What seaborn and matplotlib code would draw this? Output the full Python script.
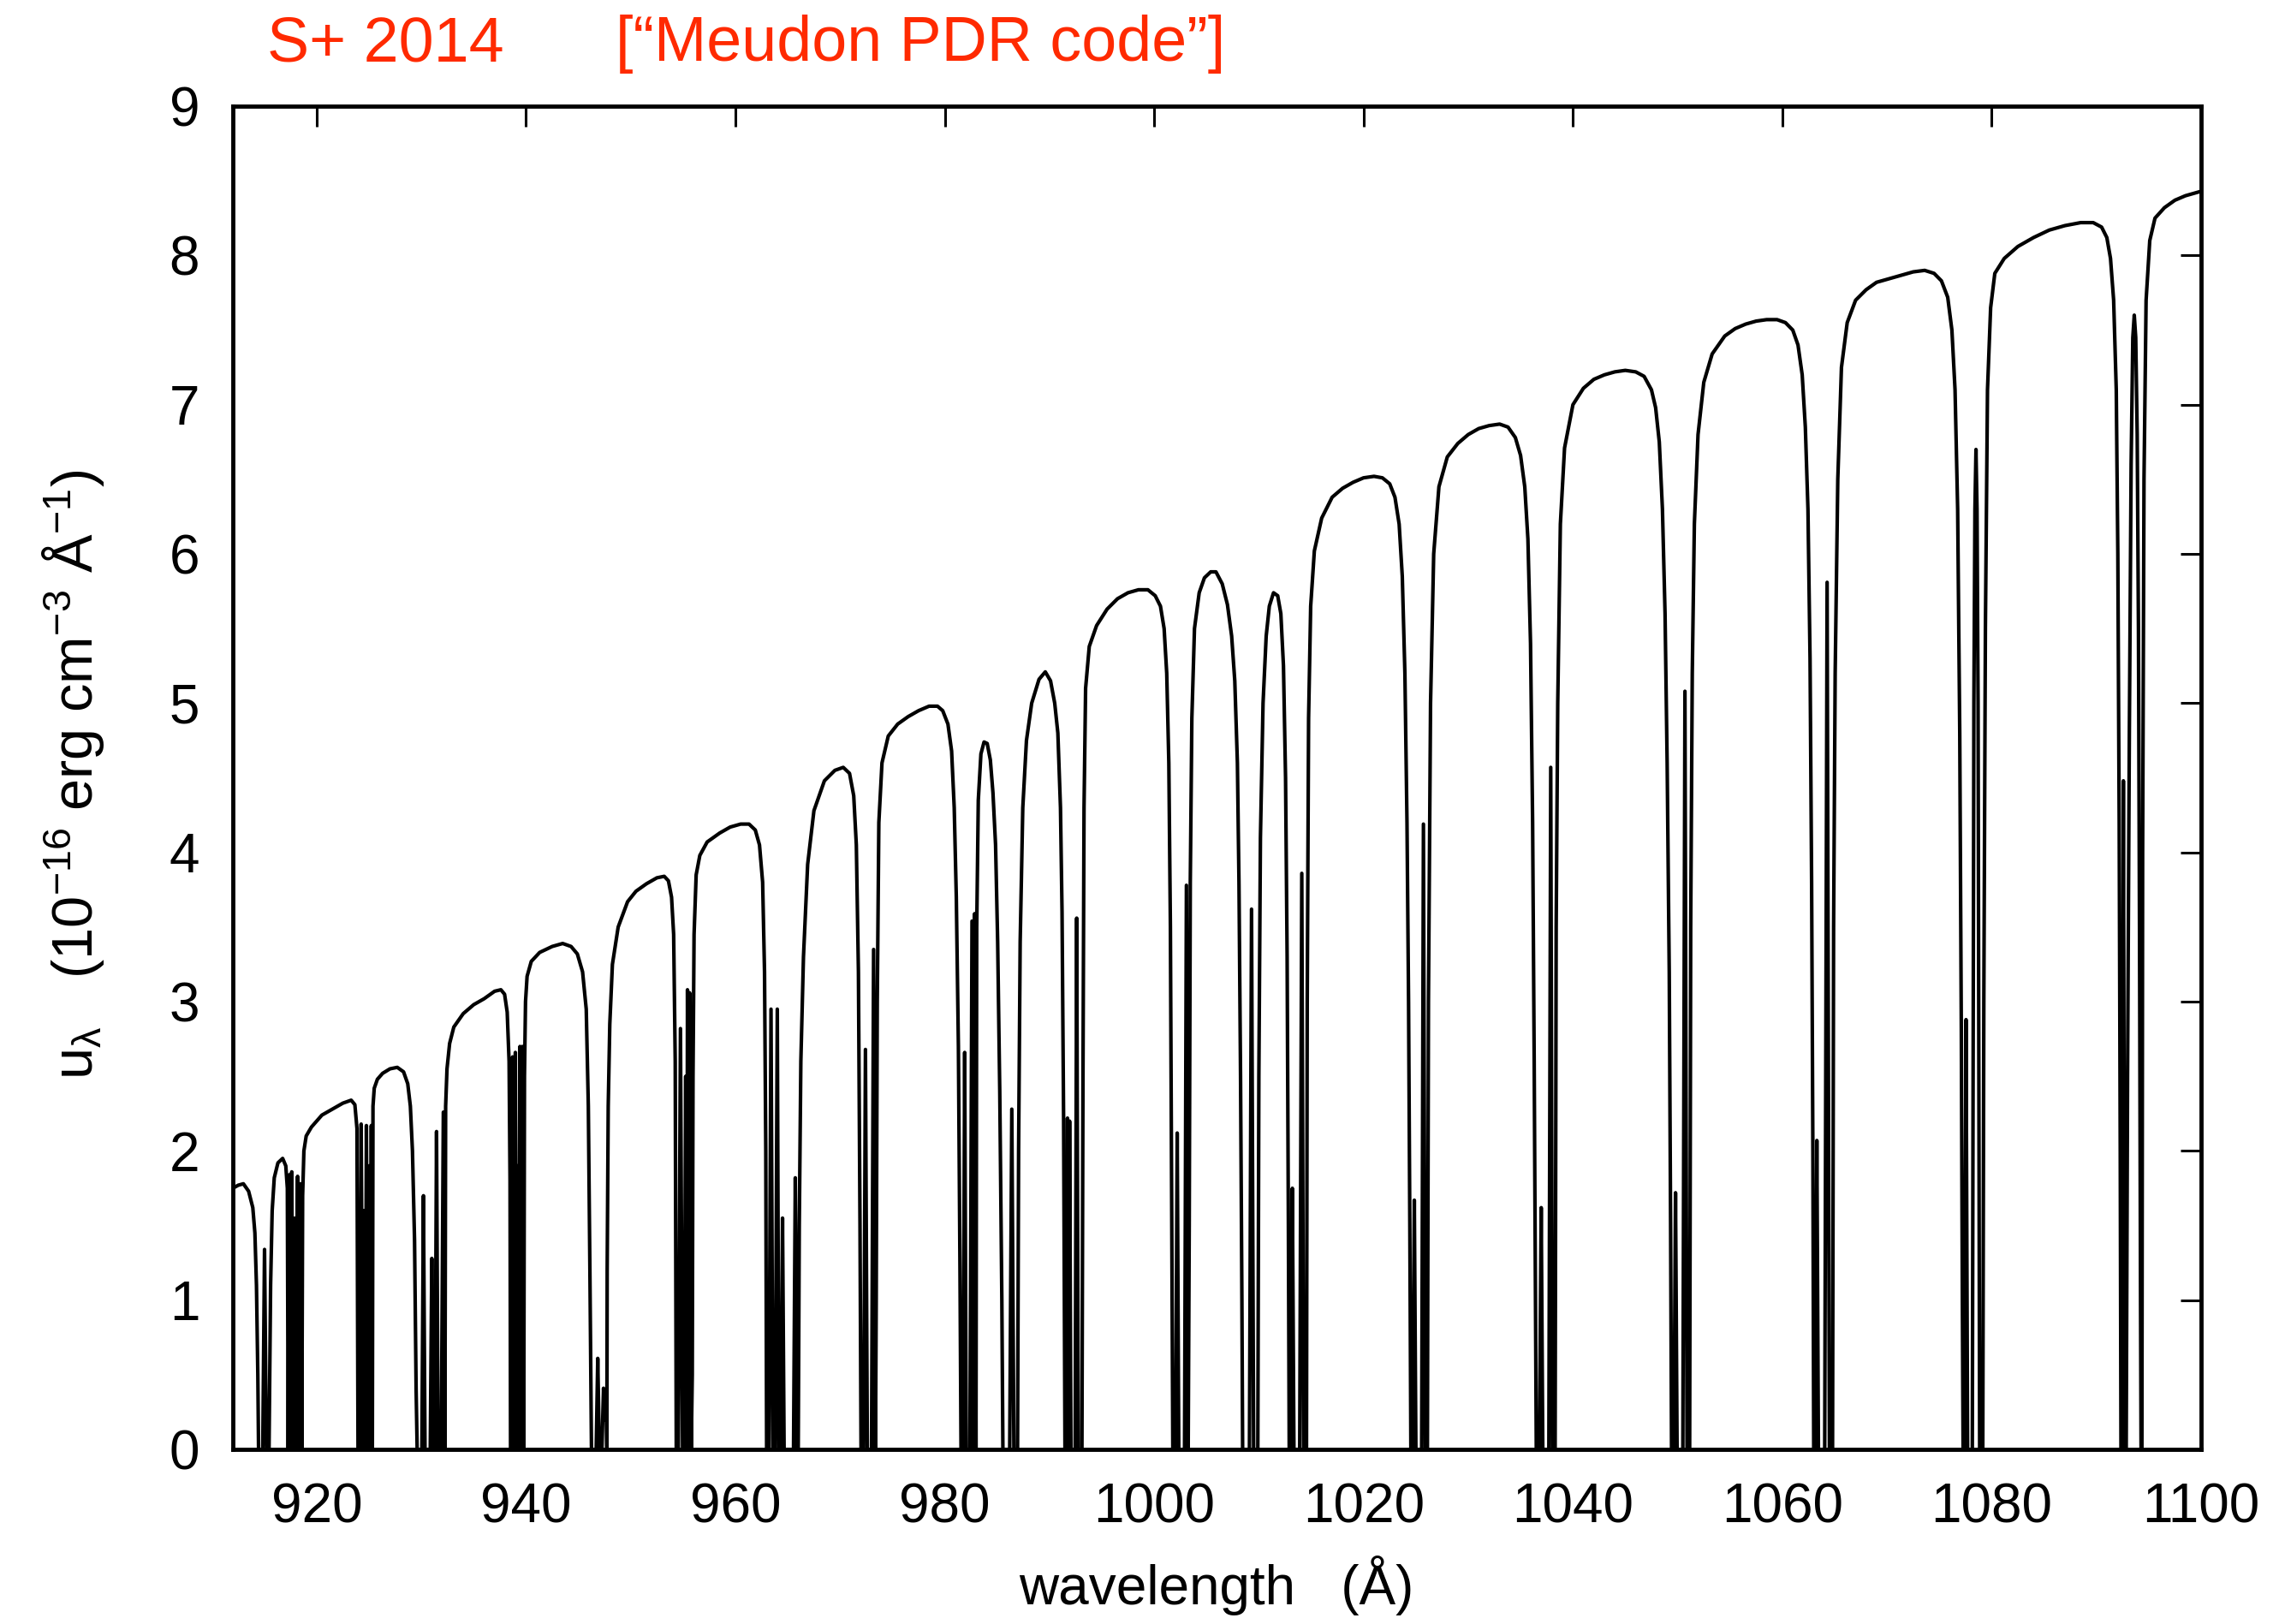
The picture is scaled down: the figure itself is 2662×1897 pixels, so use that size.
import matplotlib.pyplot as plt
import seaborn as sns
import pandas as pd

# (wavelength in Angstrom, u_lambda in 1e-16 erg cm-3 A-1)
band_912_926 = [
    (912.0, 1.75), (912.5, 1.77), (913.0, 1.78), (913.5, 1.73), (913.9, 1.62),
    (914.1, 1.45), (914.25, 1.10), (914.38, 0.50), (914.45, 0.0),
    (914.85, 0.0), (915.02, 1.34), (915.2, 0.0),
    (915.45, 0.0), (915.6, 1.10), (915.75, 1.60), (915.95, 1.82), (916.3, 1.92),
    (916.75, 1.95), (917.05, 1.90), (917.2, 1.75), (917.28, 0.0),
    (917.38, 1.84), (917.5, 0.0), (917.62, 1.86), (917.75, 0.0), (917.9, 1.55),
    (918.0, 0.0), (918.18, 1.83), (918.3, 0.0), (918.45, 1.78), (918.58, 0.0),
    (918.66, 1.70), (918.78, 2.00), (919.0, 2.10), (919.5, 2.16), (920.5, 2.24),
    (921.5, 2.28), (922.5, 2.32), (923.3, 2.34), (923.65, 2.31), (923.85, 2.15),
    (923.95, 0.0), (924.1, 0.0), (924.25, 2.18), (924.42, 0.0), (924.55, 1.60),
    (924.65, 0.0), (924.75, 2.17), (924.9, 0.0), (925.0, 1.90), (925.1, 0.0),
    (925.22, 2.17), (925.32, 0.0),
]

band_925_940 = [
    (925.38, 2.30), (925.5, 2.42), (925.8, 2.48), (926.3, 2.52), (927.0, 2.55),
    (927.7, 2.56), (928.3, 2.53), (928.7, 2.45), (928.95, 2.30), (929.15, 2.00),
    (929.35, 1.40), (929.5, 0.40), (929.6, 0.0),
    (930.05, 0.0), (930.2, 1.70), (930.35, 0.0), (930.85, 0.0), (931.0, 1.28),
    (931.12, 0.0), (931.3, 0.0), (931.45, 2.13), (931.6, 0.0), (931.9, 0.0),
    (932.1, 2.26), (932.25, 0.0),
    (932.32, 2.30), (932.45, 2.55), (932.7, 2.72), (933.1, 2.83), (934.0, 2.92),
    (935.0, 2.98), (936.0, 3.02), (937.0, 3.07), (937.6, 3.08), (937.95, 3.05),
    (938.2, 2.93), (938.38, 2.60), (938.47, 1.80), (938.52, 0.0),
    (938.6, 0.0), (938.72, 2.63), (938.85, 0.0), (938.98, 2.66), (939.1, 0.0),
    (939.2, 1.90), (939.28, 0.0), (939.42, 2.70), (939.55, 0.0), (939.65, 2.70),
    (939.78, 0.0),
]

band_940_956 = [
    (939.85, 2.50), (939.95, 3.00), (940.1, 3.17), (940.5, 3.27), (941.3, 3.33),
    (942.5, 3.37), (943.5, 3.39), (944.3, 3.37), (944.9, 3.32), (945.4, 3.20),
    (945.75, 2.95), (945.95, 2.30), (946.1, 1.20), (946.25, 0.0),
    (946.7, 0.0), (946.85, 0.61), (947.0, 0.0), (947.25, 0.0), (947.4, 0.41),
    (947.55, 0.20), (947.65, 0.39), (947.72, 0.0),
    (947.75, 1.20), (947.85, 2.30), (948.0, 2.85), (948.25, 3.25), (948.8, 3.50),
    (949.7, 3.67), (950.5, 3.74), (951.5, 3.79), (952.5, 3.83), (953.2, 3.84),
    (953.6, 3.81), (953.9, 3.70), (954.1, 3.45), (954.25, 2.60), (954.35, 0.0),
    (954.55, 0.0), (954.75, 2.82), (954.95, 0.0), (955.1, 0.0), (955.25, 2.50),
    (955.35, 0.0), (955.42, 3.08), (955.55, 0.0), (955.62, 3.06), (955.78, 0.0),
]

band_956_974 = [
    (955.88, 0.50), (955.95, 2.50), (956.05, 3.45), (956.25, 3.85), (956.6, 3.98),
    (957.3, 4.07), (958.5, 4.13), (959.5, 4.17), (960.5, 4.19), (961.3, 4.19),
    (961.9, 4.15), (962.3, 4.05), (962.6, 3.80), (962.78, 3.20), (962.9, 2.00),
    (962.98, 0.0),
    (963.2, 0.0), (963.4, 2.95), (963.58, 0.0), (963.8, 0.0), (964.0, 2.95),
    (964.15, 0.0), (964.35, 0.0), (964.5, 1.55), (964.65, 0.0), (965.55, 0.0),
    (965.72, 1.82), (965.88, 0.0),
    (966.0, 0.0), (966.1, 1.50), (966.25, 2.60), (966.5, 3.30), (966.9, 3.92),
    (967.5, 4.28), (968.5, 4.48), (969.5, 4.55), (970.3, 4.57), (970.9, 4.53),
    (971.3, 4.38), (971.55, 4.05), (971.75, 3.20), (971.9, 1.50), (972.0, 0.0),
    (972.25, 0.0), (972.42, 2.68), (972.6, 0.0), (973.0, 0.0), (973.2, 3.35),
    (973.38, 0.0),
]

band_973_993 = [
    (973.45, 1.00), (973.55, 3.00), (973.7, 4.20), (974.0, 4.60), (974.6, 4.78),
    (975.5, 4.86), (976.5, 4.91), (977.5, 4.95), (978.5, 4.98), (979.3, 4.98),
    (979.8, 4.95), (980.3, 4.86), (980.65, 4.68), (980.9, 4.30), (981.1, 3.70),
    (981.3, 2.70), (981.45, 1.20), (981.55, 0.0),
    (981.75, 0.0), (981.9, 2.66), (982.05, 0.0), (982.4, 0.0), (982.6, 3.54),
    (982.75, 0.0), (982.85, 3.59), (982.98, 0.0),
    (983.05, 3.50), (983.2, 4.35), (983.45, 4.66), (983.75, 4.74), (984.05, 4.73),
    (984.35, 4.62), (984.6, 4.40), (984.85, 4.05), (985.05, 3.40), (985.25, 2.40),
    (985.45, 1.00), (985.55, 0.0),
    (986.2, 0.0), (986.4, 2.28), (986.6, 0.0),
    (986.95, 0.0), (987.05, 2.00), (987.2, 3.40), (987.45, 4.30), (987.8, 4.75),
    (988.3, 5.00), (989.0, 5.16), (989.6, 5.21), (990.1, 5.15), (990.5, 5.00),
    (990.8, 4.80), (991.05, 4.30), (991.2, 3.60), (991.35, 2.20), (991.48, 0.0),
    (991.6, 0.0), (991.72, 2.22), (991.85, 0.0), (991.92, 2.20), (992.05, 0.0),
    (992.45, 0.0), (992.6, 3.56), (992.75, 0.0),
]

band_993_1015 = [
    (993.1, 0.0), (993.2, 2.50), (993.3, 4.30), (993.45, 5.10), (993.8, 5.38),
    (994.5, 5.52), (995.5, 5.63), (996.5, 5.70), (997.5, 5.74), (998.5, 5.76),
    (999.4, 5.76), (1000.1, 5.72), (1000.6, 5.65), (1000.95, 5.50), (1001.2, 5.20),
    (1001.4, 4.60), (1001.55, 3.50), (1001.68, 1.50), (1001.78, 0.0),
    (1002.05, 0.0), (1002.2, 2.12), (1002.35, 0.0), (1002.9, 0.0), (1003.08, 3.78),
    (1003.25, 0.0),
    (1003.35, 1.50), (1003.45, 3.80), (1003.6, 4.90), (1003.85, 5.50), (1004.3, 5.74),
    (1004.8, 5.84), (1005.4, 5.88), (1005.9, 5.88), (1006.5, 5.80), (1007.0, 5.66),
    (1007.4, 5.45), (1007.7, 5.15), (1007.95, 4.60), (1008.1, 3.80), (1008.25, 2.50),
    (1008.38, 1.00), (1008.45, 0.0),
    (1009.1, 0.0), (1009.3, 3.62), (1009.5, 0.0),
    (1009.9, 0.0), (1010.0, 2.50), (1010.15, 4.10), (1010.4, 5.00), (1010.7, 5.45),
    (1011.0, 5.65), (1011.4, 5.74), (1011.8, 5.72), (1012.1, 5.60), (1012.35, 5.25),
    (1012.55, 4.50), (1012.7, 3.30), (1012.82, 1.50), (1012.9, 0.0),
    (1013.05, 0.0), (1013.2, 1.75), (1013.35, 0.0), (1013.9, 0.0), (1014.1, 3.86),
    (1014.28, 0.0),
]

band_1014_1038 = [
    (1014.55, 0.0), (1014.62, 3.00), (1014.75, 4.90), (1014.95, 5.65), (1015.3, 6.02),
    (1016.0, 6.24), (1017.0, 6.38), (1018.0, 6.44), (1019.0, 6.48), (1020.0, 6.51),
    (1021.0, 6.52), (1021.8, 6.51), (1022.5, 6.47), (1023.0, 6.38), (1023.4, 6.20),
    (1023.7, 5.85), (1023.95, 5.20), (1024.15, 4.20), (1024.3, 3.00), (1024.42, 1.50),
    (1024.52, 0.0),
    (1024.7, 0.0), (1024.85, 1.67), (1025.0, 0.0), (1025.55, 0.0), (1025.72, 4.19),
    (1025.9, 0.0),
    (1026.1, 0.0), (1026.2, 3.00), (1026.4, 5.00), (1026.7, 6.00), (1027.2, 6.45),
    (1028.0, 6.65), (1029.0, 6.74), (1030.0, 6.80), (1031.0, 6.84), (1032.0, 6.86),
    (1033.0, 6.87), (1033.8, 6.85), (1034.5, 6.78), (1035.0, 6.66), (1035.4, 6.45),
    (1035.7, 6.10), (1035.95, 5.40), (1036.15, 4.20), (1036.3, 2.60), (1036.42, 1.00),
    (1036.5, 0.0),
    (1036.8, 0.0), (1036.97, 1.62), (1037.12, 0.0), (1037.7, 0.0), (1037.88, 4.57),
    (1038.05, 0.0),
]

band_1038_1065 = [
    (1038.3, 0.0), (1038.4, 3.50), (1038.55, 5.00), (1038.8, 6.20), (1039.2, 6.71),
    (1040.0, 7.00), (1041.0, 7.11), (1042.0, 7.17), (1043.0, 7.20), (1044.0, 7.22),
    (1045.0, 7.23), (1046.0, 7.22), (1046.8, 7.19), (1047.5, 7.10), (1047.9, 6.98),
    (1048.25, 6.75), (1048.55, 6.30), (1048.8, 5.60), (1049.0, 4.60), (1049.2, 3.20),
    (1049.33, 1.50), (1049.42, 0.0),
    (1049.65, 0.0), (1049.8, 1.72), (1049.95, 0.0), (1050.5, 0.0), (1050.7, 5.08),
    (1050.9, 0.0),
    (1051.15, 0.0), (1051.25, 3.50), (1051.4, 5.20), (1051.6, 6.20), (1051.95, 6.80),
    (1052.5, 7.15), (1053.3, 7.34), (1054.5, 7.46), (1055.5, 7.51), (1056.5, 7.54),
    (1057.5, 7.56), (1058.5, 7.57), (1059.5, 7.57), (1060.3, 7.55), (1061.0, 7.50),
    (1061.5, 7.40), (1061.9, 7.20), (1062.2, 6.85), (1062.45, 6.30), (1062.65, 5.30),
    (1062.8, 3.80), (1062.92, 2.00), (1063.0, 0.0),
    (1063.15, 0.0), (1063.3, 2.07), (1063.45, 0.0), (1064.05, 0.0), (1064.28, 5.81),
    (1064.5, 0.0),
]

band_1065_1100 = [
    (1064.8, 0.0), (1064.9, 3.50), (1065.05, 5.20), (1065.3, 6.50), (1065.65, 7.25),
    (1066.2, 7.55), (1067.0, 7.70), (1068.0, 7.77), (1069.0, 7.82), (1070.0, 7.84),
    (1071.0, 7.86), (1072.5, 7.89), (1073.6, 7.90), (1074.5, 7.88), (1075.2, 7.83),
    (1075.8, 7.72), (1076.2, 7.50), (1076.5, 7.10), (1076.75, 6.30), (1076.95, 4.80),
    (1077.1, 2.80), (1077.2, 1.00), (1077.27, 0.0),
    (1077.4, 0.0), (1077.55, 2.88), (1077.7, 0.0), (1078.15, 0.0), (1078.3, 5.00),
    (1078.4, 6.30), (1078.5, 6.70), (1078.6, 6.30), (1078.7, 5.00), (1078.85, 0.0),
    (1079.15, 0.0), (1079.25, 3.00), (1079.4, 5.50), (1079.6, 7.10), (1079.9, 7.65),
    (1080.3, 7.88), (1081.2, 7.98), (1082.5, 8.06), (1084.0, 8.12), (1085.5, 8.17),
    (1087.0, 8.20), (1088.5, 8.22), (1089.7, 8.22), (1090.5, 8.19), (1091.0, 8.12),
    (1091.35, 7.98), (1091.65, 7.70), (1091.9, 7.10), (1092.05, 6.00), (1092.18, 4.20),
    (1092.28, 2.00), (1092.35, 0.0),
    (1092.45, 0.0), (1092.58, 4.48), (1092.72, 0.0),
    (1092.85, 0.0), (1092.98, 2.50), (1093.15, 4.80), (1093.32, 6.60), (1093.48, 7.45),
    (1093.62, 7.60), (1093.76, 7.45), (1093.9, 6.80), (1094.02, 5.50), (1094.12, 3.50),
    (1094.22, 1.00), (1094.27, 0.0),
    (1094.35, 0.0), (1094.42, 4.00), (1094.55, 6.50), (1094.75, 7.70), (1095.1, 8.10),
    (1095.6, 8.25), (1096.5, 8.32), (1097.5, 8.37), (1098.5, 8.40), (1100.0, 8.43),
]

x_ticks = [920, 940, 960, 980, 1000, 1020, 1040, 1060, 1080, 1100]
y_ticks = [0, 1, 2, 3, 4, 5, 6, 7, 8, 9]

segments = [band_912_926, band_925_940, band_940_956, band_956_974, band_973_993,
            band_993_1015, band_1014_1038, band_1038_1065, band_1065_1100]
points = [p for seg in segments for p in seg]
df = pd.DataFrame(points, columns=["wavelength", "u"])

sns.set_style("white")
plt.rcParams["font.family"] = ["Liberation Sans", "DejaVu Sans"]
plt.rcParams["mathtext.fontset"] = "custom"
plt.rcParams["mathtext.rm"] = "Liberation Sans"
plt.rcParams["mathtext.it"] = "Liberation Sans:italic"
plt.rcParams["text.color"] = "black"

fig = plt.figure(figsize=(26.62, 18.97), dpi=100)
ax = fig.add_axes([0.1022, 0.1075, 0.8636, 0.8271])

sns.lineplot(data=df, x="wavelength", y="u", ax=ax, color="black",
             linewidth=3.0, estimator=None, sort=False)

ax.set_xlim(912, 1100)
ax.set_ylim(0, 9)
ax.set_xticks(x_ticks)
ax.set_yticks(y_ticks)
ax.tick_params(direction="in", length=17, width=2.2, labelsize=46,
               top=True, right=True, pad=28, colors="black")
for sp in ax.spines.values():
    sp.set_linewidth(3.5)
    sp.set_color("black")
ax.set_xlabel("")
ax.set_ylabel("")

fig.text(0.5338, 0.0121, "wavelength   (Å)", ha="center", va="baseline",
         fontsize=46, color="black")
fig.text(0.032, 0.523,
         r"u$_{\mathregular{λ}}$   (10$^{\mathregular{-16}}$ erg cm$^{\mathregular{-3}}$ Å$^{\mathregular{-1}}$)",
         rotation=90, ha="center", va="center", fontsize=48, color="black")

red = "#ff2a00"
fig.text(312 / 2662, 1 - 71 / 1897, "S+ 2014", color=red, fontsize=53,
         ha="left", va="baseline")
fig.text(719 / 2662, 1 - 71 / 1897, "[“Meudon PDR code”]", color=red,
         fontsize=53, ha="left", va="baseline")

plt.savefig("out.png", dpi=100)
plt.close()
